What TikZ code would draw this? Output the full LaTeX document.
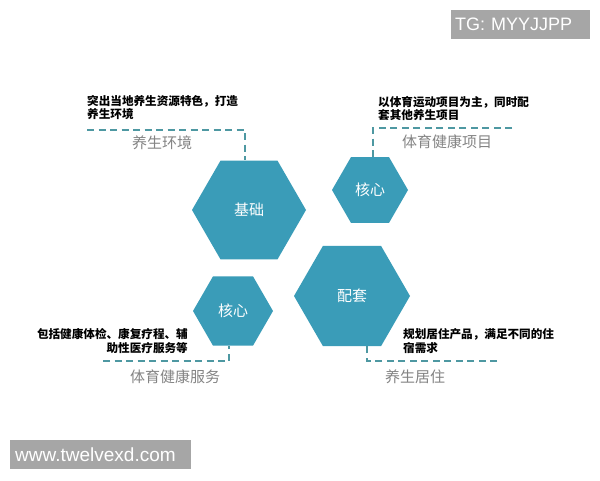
\documentclass[tikz,border=0pt]{standalone}
\usepackage{fontspec}
\setmainfont{Liberation Sans}
\newfontfamily\cjk{Noto Sans CJK SC}
\usetikzlibrary{shapes.geometric}
\definecolor{hexteal}{RGB}{58,156,184}
\definecolor{dashteal}{RGB}{78,152,162}
\definecolor{lblgray}{RGB}{132,132,132}
\definecolor{boxgray}{RGB}{166,166,166}
\begin{document}
\begin{tikzpicture}[x=1pt,y=-1pt,
 hexa/.style={regular polygon, regular polygon sides=6, fill=hexteal, draw=none, inner sep=0pt, text=white, font=\cjk\fontsize{15}{17}\selectfont},
 dline/.style={draw=dashteal, line width=2pt, dash pattern=on 7pt off 4.5pt},
 desc/.style={align=left, inner sep=0pt, font=\cjk\bfseries\fontsize{11.6}{13}\selectfont},
 descb/.style={inner sep=0pt, font=\cjk\bfseries\fontsize{11.6}{14.5}\selectfont},
 lbl/.style={text=lblgray, inner sep=0pt, font=\cjk\fontsize{15}{17}\selectfont},
 tag/.style={fill=boxgray, text=white, inner xsep=4pt, inner ysep=0pt, minimum height=29pt, anchor=north west, align=left}]
\useasboundingbox[fill=white] (0,0) rectangle (600,480);

% hexagons
\node[hexa, minimum size=114pt] (hx1) at (249,210) {基础};
\node[hexa, minimum size=76pt] (hx2) at (370,190) {核心};
\node[hexa, minimum size=80pt] (hx3) at (233,311) {核心};
\node[hexa, minimum size=116pt] (hx4) at (352,296) {配套};

% connector ends
\coordinate (tl) at (87,130);
\coordinate (tr) at (512,128);
\coordinate (bl) at (103,361);
\coordinate (br) at (497,361);

\draw[dline] (tl) -| ([xshift=-4pt]hx1.north);
\draw[dline] (tr) -| ([xshift=3pt]hx2.north);
\draw[dline] (bl) -| ([xshift=-4pt]hx3.south);
\draw[dline] (br) -| ([xshift=15pt]hx4.south);

% descriptions
\node[desc, anchor=north west] (d1) at (87,95) {突出当地养生资源特色，打造\\养生环境};
\node[desc, anchor=north west] (d2) at (378,96) {以体育运动项目为主，同时配\\套其他养生项目};
\node[descb, anchor=north east, align=right] (d3) at (188,328) {包括健康体检、康复疗程、辅\\助性医疗服务等};
\node[descb, anchor=north west, align=left] (d4) at (403,328) {规划居住产品，满足不同的住\\宿需求};

% labels
\node[lbl] (l1) at (162,143) {养生环境};
\node[lbl] (l2) at (447,142) {体育健康项目};
\node[lbl] (l3) at (175,377) {体育健康服务};
\node[lbl] (l4) at (415,377) {养生居住};

% tags
\node[tag, text width=131pt, font=\fontsize{18}{20}\selectfont] (tg) at (451,10) {TG: MYYJJPP};
\node[tag, inner xsep=5pt, text width=171pt, font=\fontsize{19}{21}\selectfont] (www) at (10,440) {www.twelvexd.com};
\end{tikzpicture}
\end{document}
